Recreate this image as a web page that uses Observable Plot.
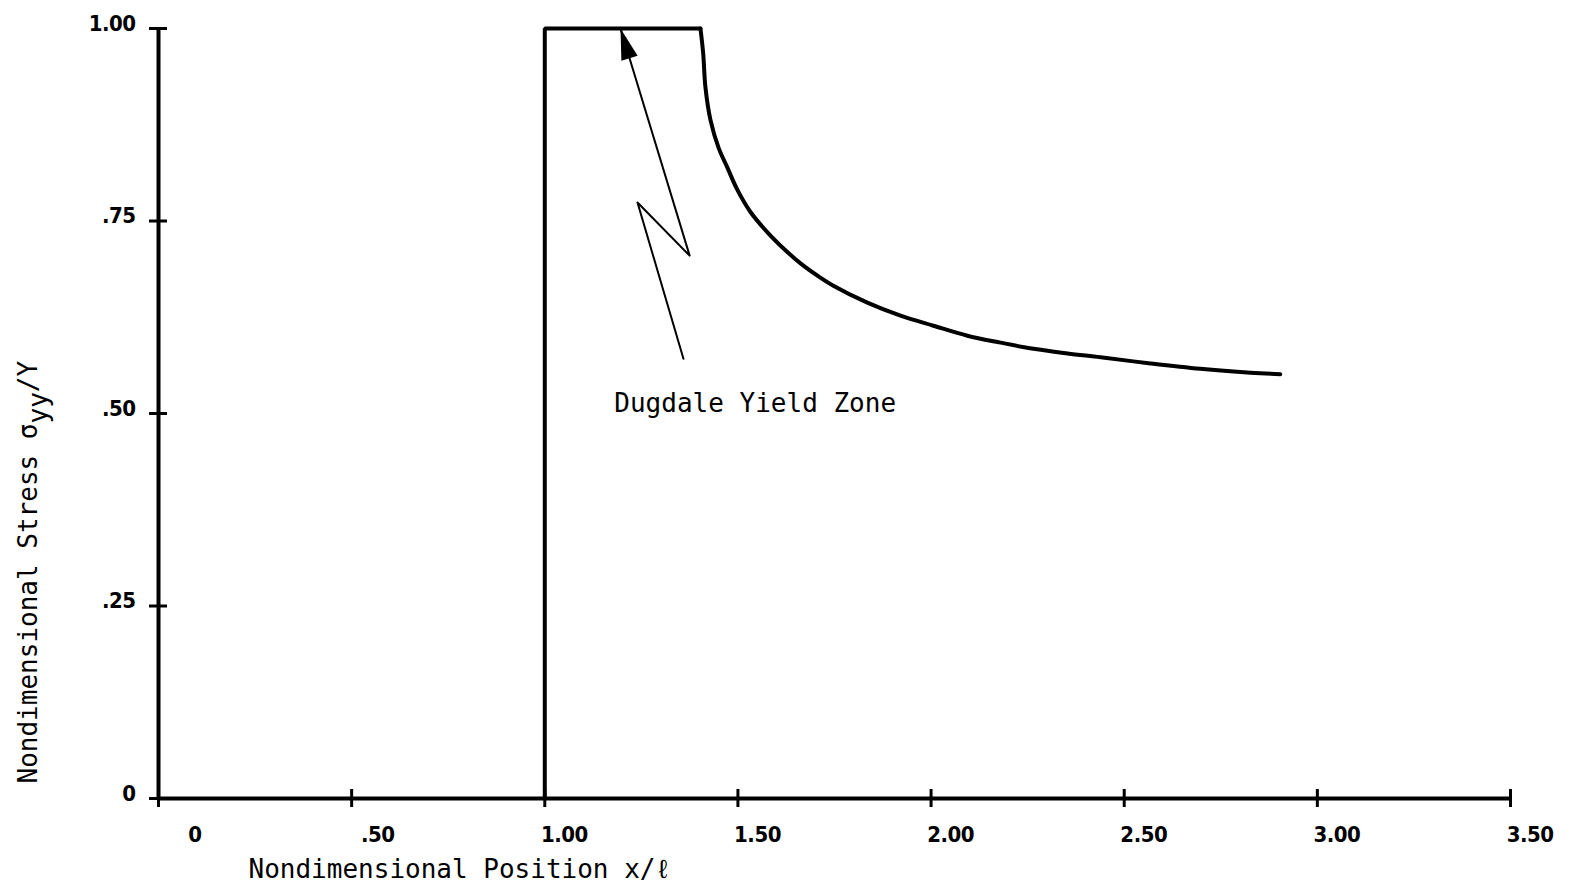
<!DOCTYPE html>
<html><head><meta charset="utf-8">
<script src="https://cdn.jsdelivr.net/npm/d3@7"></script>
<script src="https://cdn.jsdelivr.net/npm/@observablehq/plot@0.6"></script>
<style>
body{margin:0;background:#fff}
#chart svg{background:#fff}
.ticklab text{font-family:"DejaVu Sans",sans-serif;font-weight:bold;font-size:22px;font-stretch:condensed;letter-spacing:-0.5px}
</style>
</head><body><div id="chart"></div>
<script>
// Stress distribution sigma_yy/Y versus x/l
const boxX = [1.0, 1.0, 1.403];
const boxY = [0.0, 1.0, 1.000];
const stressX = [1.403, 1.410, 1.416, 1.429, 1.450, 1.473, 1.499, 1.532, 1.577, 1.623, 1.662, 1.706, 1.747, 1.835, 1.921, 2.006, 2.094, 2.180, 2.265, 2.353, 2.439, 2.568, 2.697, 2.827, 2.904];
const stressY = [1.000, 0.968, 0.923, 0.881, 0.845, 0.819, 0.790, 0.762, 0.735, 0.712, 0.695, 0.679, 0.666, 0.644, 0.627, 0.614, 0.601, 0.592, 0.584, 0.578, 0.573, 0.565, 0.558, 0.553, 0.551];
// Annotation arrow (zig-zag leader) and its label
const arrowX = [1.359, 1.240, 1.375, 1.196];
const arrowY = [0.571, 0.774, 0.705, 1.0];
const noteText = ["Dugdale Yield Zone"];
const noteX = [1.18];
const noteY = [0.513];
// Ticks
const xTicks = [0, 0.5, 1, 1.5, 2, 2.5, 3, 3.5];
const xTickLabels = ["0", ".50", "1.00", "1.50", "2.00", "2.50", "3.00", "3.50"];
const yTicks = [0, 0.25, 0.5, 0.75, 1];
const yTickLabels = ["0", ".25", ".50", ".75", "1.00"];
const xLabel = "Nondimensional Position x/\u2113";
const yLabel = "Nondimensional Stress \u03C3yy/Y";

const monoFont = "'DejaVu Sans Mono', 'Liberation Mono', monospace";

function filledArrow(color) {
  const ns = "http://www.w3.org/2000/svg";
  const m = document.createElementNS(ns, "marker");
  m.setAttribute("viewBox", "-34 -12 36 24");
  m.setAttribute("markerWidth", 36);
  m.setAttribute("markerHeight", 24);
  m.setAttribute("markerUnits", "userSpaceOnUse");
  m.setAttribute("orient", "auto");
  m.setAttribute("refX", 0);
  m.setAttribute("refY", 0);
  const p = document.createElementNS(ns, "path");
  p.setAttribute("d", "M0,0L-31,-8.5L-31,8.5Z");
  p.setAttribute("fill", color);
  p.setAttribute("stroke", "none");
  m.appendChild(p);
  return m;
}

const boxData = boxX.map((x, i) => ({x, y: boxY[i]}));
const stressData = stressX.map((x, i) => ({x, y: stressY[i]}));
const arrowData = arrowX.map((x, i) => ({x, y: arrowY[i]}));

const plot = Plot.plot({
  width: 1569,
  height: 891,
  marginLeft: 158,
  marginRight: 59,
  marginTop: 28,
  marginBottom: 93,
  x: {domain: [0, 3.5]},
  y: {domain: [0, 1]},
  marks: [
    // cross ticks (outward + inward)
    Plot.axisX({ticks: xTicks, tickSize: 9, strokeWidth: 3, text: null, label: null}),
    Plot.axisX({ticks: xTicks, tickSize: -9, strokeWidth: 3, text: null, label: null}),
    Plot.axisY({ticks: yTicks, tickSize: 9, strokeWidth: 3, text: null, label: null}),
    Plot.axisY({ticks: yTicks, tickSize: -9, strokeWidth: 3, text: null, label: null}),
    // tick labels
    Plot.axisX({ticks: xTicks, tickSize: 0, tickPadding: 28,
      tickFormat: (d) => xTickLabels[xTicks.indexOf(d)], textAnchor: "end", dx: 43,
      fontSize: 22, fontWeight: "bold", className: "ticklab", label: null}),
    Plot.axisY({ticks: yTicks, tickSize: 0, tickPadding: 23,
      tickFormat: (d) => yTickLabels[yTicks.indexOf(d)], dy: -5,
      fontSize: 22, fontWeight: "bold", className: "ticklab", label: null}),
    Plot.ruleY([0], {strokeWidth: 4, stroke: "#000"}),
    Plot.ruleX([0], {strokeWidth: 4, stroke: "#000"}),
    Plot.line(boxData, {x: "x", y: "y", stroke: "#000", strokeWidth: 4, strokeLinejoin: "miter"}),
    Plot.line(stressData, {x: "x", y: "y", stroke: "#000", strokeWidth: 4, curve: "catmull-rom", strokeLinecap: "round"}),
    Plot.line(arrowData, {x: "x", y: "y", stroke: "#000", strokeWidth: 2, strokeLinejoin: "round", markerEnd: filledArrow}),
    Plot.text(noteText, {x: noteX, y: noteY, text: (d) => d, textAnchor: "start", fontSize: 26, fontFamily: monoFont, fill: "#000"}),
    Plot.text([xLabel], {frameAnchor: "bottom-left", dx: 90, dy: 79, textAnchor: "start", fontSize: 26, fontFamily: monoFont, fill: "#000"}),
    Plot.text([yLabel], {frameAnchor: "left", rotate: -90, dx: -130, dy: 370, textAnchor: "start", fontSize: 26, fontFamily: monoFont, fill: "#000", className: "ylab"})
  ]
});

// subscript for the y label
d3.select(plot).selectAll(".ylab text").each(function () {
  const t = d3.select(this);
  t.text(null);
  t.append("tspan").text("Nondimensional Stress \u03C3");
  t.append("tspan").attr("dy", "0.4em").text("yy");
  t.append("tspan").attr("dy", "-0.4em").text("/Y");
});

document.getElementById("chart").appendChild(plot);
</script>
</body></html>
